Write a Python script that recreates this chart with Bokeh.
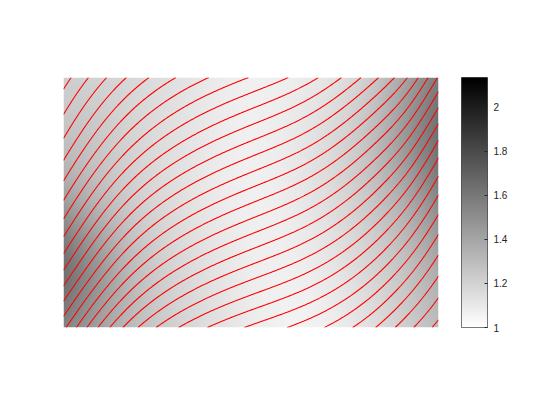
import numpy as np
from bokeh.plotting import figure
from bokeh.models import LinearColorMapper, LinearAxis, FixedTicker, CustomJSTickFormatter, Range1d
from bokeh.layouts import row
from bokeh.embed import file_html
from bokeh.resources import INLINE

# ---- data -----------------------------------------------------------------
# sample nodes of the field (data units; the image spans 0..3 by 0..2)
x_nodes = [0.0, 0.25, 0.5, 1.0, 1.5, 2.0, 2.5, 2.75, 3.0]
y_nodes = [0.0, 0.5, 1.0, 1.5, 2.0]

# contour value (counted red line index) at each node, one list per y node
level_y00 = [13.75, 16.72, 19.22, 22.37, 24.16, 25.68, 28.02, 29.65, 31.35]
level_y05 = [9.68, 12.54, 14.98, 18.15, 20.02, 21.71, 24.39, 26.27, 28.48]
level_y10 = [6.11, 8.73, 11.00, 14.06, 15.95, 17.75, 20.70, 22.77, 25.39]
level_y15 = [3.07, 5.32, 7.31, 10.12, 11.94, 13.76, 16.84, 19.00, 21.98]
level_y20 = [0.55, 2.35, 3.98, 6.41, 8.06, 9.81, 12.84, 14.98, 18.10]

# grey shading (colour-bar value) at each node
shade_y00 = [1.55, 1.43, 1.32, 1.18, 1.09, 1.06, 1.15, 1.22, 1.30]
shade_y05 = [1.63, 1.47, 1.32, 1.16, 1.08, 1.09, 1.20, 1.28, 1.38]
shade_y10 = [1.44, 1.33, 1.24, 1.13, 1.07, 1.12, 1.26, 1.37, 1.52]
shade_y15 = [1.28, 1.25, 1.20, 1.12, 1.07, 1.13, 1.30, 1.46, 1.63]
shade_y20 = [1.22, 1.20, 1.18, 1.12, 1.07, 1.10, 1.25, 1.41, 1.58]

contour_levels = list(range(1, 32))
cbar_ticks = [1.0, 1.2, 1.4, 1.6, 1.8, 2.0]
cbar_low, cbar_high = 1.0, 2.135


# ---- smooth rendering of the node grids (natural cubic spline) -----------
def natural_spline(xk, yk, xq):
    xk = np.asarray(xk, float)
    yk = np.asarray(yk, float)
    n = len(xk)
    h = np.diff(xk)
    A = np.zeros((n, n))
    r = np.zeros(n)
    A[0, 0] = 1.0
    A[-1, -1] = 1.0
    for i in range(1, n - 1):
        A[i, i - 1] = h[i - 1]
        A[i, i] = 2 * (h[i - 1] + h[i])
        A[i, i + 1] = h[i]
        r[i] = 3 * ((yk[i + 1] - yk[i]) / h[i] - (yk[i] - yk[i - 1]) / h[i - 1])
    c = np.linalg.solve(A, r)
    b = (yk[1:] - yk[:-1]) / h - h * (2 * c[:-1] + c[1:]) / 3
    d = (c[1:] - c[:-1]) / (3 * h)
    idx = np.clip(np.searchsorted(xk, xq) - 1, 0, n - 2)
    dx = xq - xk[idx]
    return yk[idx] + b[idx] * dx + c[idx] * dx ** 2 + d[idx] * dx ** 3


def weights(xk, xq):
    W = np.zeros((len(xq), len(xk)))
    for j in range(len(xk)):
        e = np.zeros(len(xk))
        e[j] = 1.0
        W[:, j] = natural_spline(xk, e, xq)
    return W


xf = np.linspace(0, 3, 376)
yf = np.linspace(0, 2, 251)
Wx = weights(x_nodes, xf)
Wy = weights(y_nodes, yf)
L = np.array([level_y00, level_y05, level_y10, level_y15, level_y20])
S = np.array([shade_y00, shade_y05, shade_y10, shade_y15, shade_y20])
Z = Wy @ L @ Wx.T
G = Wy @ S @ Wx.T

palette = ["#%02x%02x%02x" % (v, v, v) for v in np.round(np.linspace(255, 0, 256)).astype(int)]
mapper = LinearColorMapper(palette=palette, low=cbar_low, high=cbar_high)

# ---- main panel -----------------------------------------------------------
p = figure(width=450, height=420, output_backend="svg", toolbar_location=None,
           x_range=Range1d(0, 3), y_range=Range1d(0, 2),
           x_axis_location=None, y_axis_location=None,
           min_border_left=63, min_border_right=12, min_border_top=77, min_border_bottom=93)
p.grid.visible = False
p.outline_line_color = None
p.background_fill_color = "white"
p.border_fill_color = "white"
p.image(image=[G], x=0, y=0, dw=3, dh=2, color_mapper=mapper)
p.contour(x=xf, y=yf, z=Z, levels=contour_levels, line_color="#ff0000", line_width=1.1)

# ---- colour bar -----------------------------------------------------------
cb = figure(width=110, height=420, output_backend="svg", toolbar_location=None,
            x_range=Range1d(0, 1), y_range=Range1d(cbar_low, cbar_high),
            x_axis_location=None, y_axis_location=None,
            min_border_left=11, min_border_right=73, min_border_top=77, min_border_bottom=93)
cb.grid.visible = False
cb.outline_line_color = "#4d4d4d"
cb.outline_line_width = 1
cb.border_fill_color = "white"
ramp = np.linspace(cbar_low, cbar_high, 256).reshape(-1, 1)
cb.image(image=[ramp], x=0, y=cbar_low, dw=1, dh=cbar_high - cbar_low, color_mapper=mapper)
ax = LinearAxis(ticker=FixedTicker(ticks=cbar_ticks),
                formatter=CustomJSTickFormatter(code="return String(Math.round(tick*10)/10)"))
ax.axis_line_color = None
ax.major_tick_in = 3
ax.major_tick_out = 0
ax.minor_tick_line_color = None
ax.major_tick_line_color = "#262626"
ax.major_label_standoff = 6
ax.major_label_text_font = "Liberation Sans"
ax.major_label_text_font_size = "10px"
ax.major_label_text_color = "#262626"
cb.add_layout(ax, "right")

layout = row(p, cb)
open("out.html", "w").write(file_html(layout, INLINE))
